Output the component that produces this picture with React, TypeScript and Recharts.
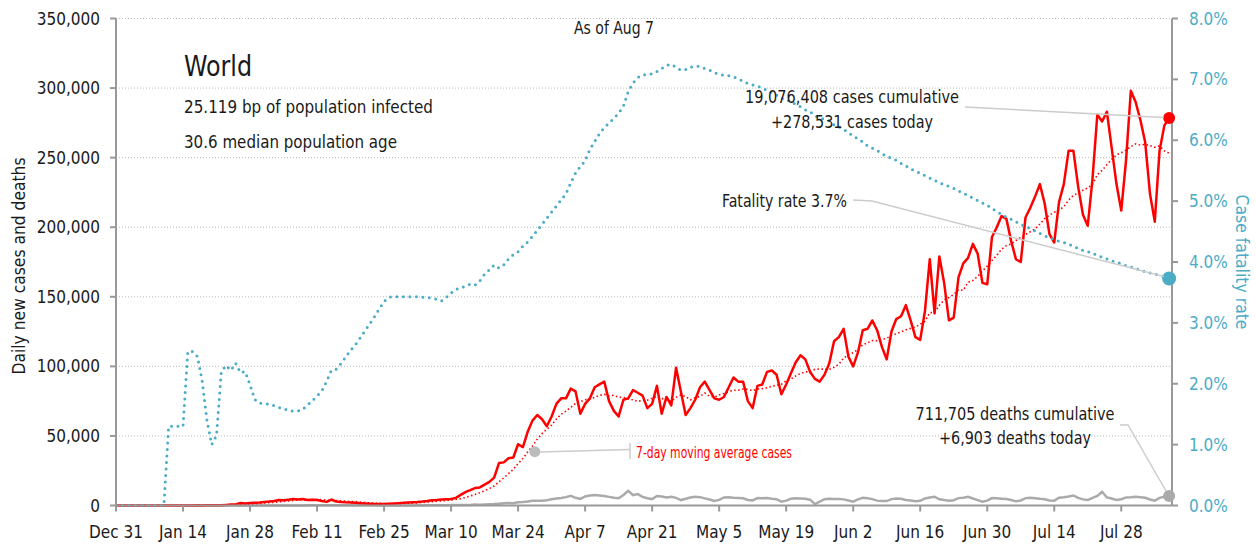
import * as React from 'react'
import { ComposedChart, Line, XAxis, YAxis, CartesianGrid, ReferenceDot } from 'recharts'

// day 0 = Dec 31, last day = Aug 7
const tickDays = [0, 14, 28, 42, 56, 70, 84, 98, 112, 126, 140, 154, 168, 182, 196, 210]
const tickLabels = ['Dec 31', 'Jan 14', 'Jan 28', 'Feb 11', 'Feb 25', 'Mar 10', 'Mar 24', 'Apr 7', 'Apr 21', 'May 5', 'May 19', 'Jun 2', 'Jun 16', 'Jun 30', 'Jul 14', 'Jul 28']
const caseTicks = [0, 50000, 100000, 150000, 200000, 250000, 300000, 350000]
const rateTicks = [0, 1, 2, 3, 4, 5, 6, 7, 8]

const dailyCases = [
  27, 0, 0, 17, 0, 15, 0, 0, 0, 0,
  0, 0, 1, 0, 1, 4, 17, 136, 19, 151,
  140, 97, 259, 441, 665, 787, 1753, 1466, 1740, 1980,
  2100, 2590, 2825, 3240, 3900, 3700, 4200, 4700, 4400, 4600,
  4000, 4100, 3900, 3200, 2600, 4300, 2800, 2500, 2300, 2200,
  1900, 1700, 1500, 1300, 1100, 1000, 1100, 1300, 1500, 1700,
  1900, 2200, 2400, 2600, 2900, 3300, 3800, 4000, 4300, 4500,
  4700, 5500, 7600, 9600, 11000, 12500, 13000, 15000, 17000, 20000,
  30500, 31000, 34000, 34500, 44000, 42000, 53000, 61000, 65000, 62000,
  57000, 64000, 73000, 77000, 77000, 84000, 82000, 66000, 73000, 77000,
  85000, 87000, 89000, 75000, 68000, 64000, 76000, 77000, 83000, 81000,
  79000, 70000, 73000, 86000, 66000, 78000, 72000, 99000, 82000, 65000,
  70000, 76000, 85000, 89000, 83000, 77000, 76000, 78000, 85000, 92000,
  89000, 89000, 75000, 70000, 86000, 87000, 96000, 97000, 94000, 80000,
  87000, 95000, 103000, 108000, 105000, 96000, 91000, 89000, 94000, 102000,
  118000, 121000, 127000, 107000, 100000, 110000, 126000, 127000, 133000, 126000,
  114000, 105000, 125000, 134000, 136000, 144000, 133000, 121000, 119000, 140000,
  177000, 138000, 179000, 160000, 133000, 135000, 164000, 174000, 178000, 188000,
  181000, 160000, 159000, 193000, 200000, 208000, 206000, 190000, 177000, 175000,
  207000, 214000, 222000, 231000, 217000, 195000, 189000, 218000, 231000, 255000,
  255000, 229000, 209000, 201000, 235000, 281000, 276000, 283000, 257000, 231000,
  212000, 248000, 298000, 290000, 277000, 261000, 224000, 204000, 255000, 273000,
  278531,
]

const weekAvgCases = [
  4, 4, 4, 6, 6, 9, 9, 5, 2, 2,
  0, 0, 0, 0, 0, 1, 3, 23, 25, 47,
  67, 81, 118, 178, 250, 360, 590, 780, 1020, 1260,
  1470, 1770, 2060, 2280, 2620, 2910, 3220, 3590, 3910, 4120,
  4170, 4240, 4270, 4130, 3830, 3810, 3560, 3340, 3090, 2840,
  2790, 2490, 2160, 1930, 1710, 1530, 1370, 1280, 1260, 1290,
  1370, 1540, 1740, 1940, 2170, 2440, 2730, 3030, 3330, 3630,
  3930, 4300, 4910, 5740, 6740, 7910, 9130, 10600, 12240, 14010,
  17000, 19860, 22930, 26000, 30140, 33710, 38430, 42790, 47640, 51640,
  54860, 57710, 62140, 65570, 67860, 70570, 73430, 74710, 76000, 76570,
  77710, 79140, 79860, 78860, 79140, 77860, 77710, 76570, 76000, 74860,
  75430, 75710, 77000, 78430, 76860, 76140, 74860, 77710, 79430, 78290,
  76000, 77430, 78430, 80860, 78570, 77860, 79430, 80570, 81860, 82860,
  82860, 83710, 83430, 82570, 83710, 84000, 84570, 85710, 86430, 87140,
  89570, 90860, 93140, 94860, 96000, 96290, 97860, 98140, 98000, 97860,
  99290, 101570, 106000, 108290, 109860, 112140, 115570, 116860, 118570, 118430,
  119430, 120140, 122290, 123430, 124710, 126290, 127290, 128290, 130290, 132430,
  138570, 138860, 143860, 147710, 149430, 151710, 155140, 154710, 160430, 161710,
  164710, 168570, 172000, 176140, 179860, 184140, 186710, 188000, 190430, 192710,
  194710, 196710, 198710, 202290, 206140, 208710, 210710, 212290, 214710, 219430,
  222860, 224570, 226570, 228290, 230710, 237860, 240860, 244860, 248860, 252000,
  253570, 255430, 257860, 259860, 259000, 259570, 258570, 257430, 258430, 254860,
  253210,
]

const dailyDeaths = [
  0, 0, 0, 0, 0, 0, 0, 0, 0, 0,
  0, 1, 0, 0, 0, 1, 0, 1, 0, 0,
  3, 3, 8, 16, 15, 15, 24, 26, 26, 38,
  43, 46, 45, 57, 64, 66, 72, 70, 85, 87,
  100, 108, 97, 146, 121, 143, 142, 106, 98, 139,
  115, 118, 109, 97, 150, 71, 64, 37, 63, 57,
  64, 70, 55, 99, 83, 101, 109, 99, 186, 218,
  289, 273, 337, 433, 346, 632, 591, 760, 957, 1050,
  1300, 1600, 1750, 1700, 2400, 2600, 2900, 3400, 3500, 3400,
  3800, 4500, 5000, 5400, 6000, 7000, 5500, 4800, 6500, 7200,
  7600, 7200, 6800, 6200, 5500, 5200, 7500, 10500, 7500, 8200,
  6200, 5200, 4600, 6800, 6500, 5800, 6300, 5500, 3900, 4800,
  5800, 6300, 6000, 5100, 4300, 3300, 4000, 5800, 6000, 5600,
  5400, 5200, 4000, 3700, 5300, 5200, 5300, 4800, 4500, 2800,
  3500, 4800, 5200, 5000, 4800, 4200, 1000, 2700, 4500, 4800,
  4600, 4700, 4400, 3600, 2800, 4400, 5600, 5200, 4600, 3500,
  3300, 3200, 4600, 5100, 4800, 4000, 3600, 3000, 3400, 5100,
  5800, 6300, 4500, 3900, 3500, 3800, 5300, 5600, 6300, 5000,
  3900, 2700, 3500, 5300, 5200, 4900, 4600, 4000, 3000, 3600,
  5300, 5500, 5200, 4800, 4500, 3600, 3500, 5600, 6000, 6500,
  7200, 5500, 4400, 3900, 5500, 6800, 9900, 5800, 5000, 3900,
  4500, 5800, 6000, 6300, 6000, 5600, 4300, 3500, 5500, 6300,
  6903,
]

// case fatality rate, percent
const fatalityRate = [
  0, 0, 0, 0, 0, 0, 0, 0, 0, 0,
  0, 1.3, 1.3, 1.3, 1.3, 2.53, 2.53, 2.45, 2.05, 1.4,
  1.0, 1.15, 2.2, 2.3, 2.22, 2.34, 2.18, 2.2, 1.98, 1.74,
  1.68, 1.68, 1.66, 1.64, 1.61, 1.59, 1.56, 1.55, 1.55, 1.58,
  1.65, 1.72, 1.8, 1.88, 2.04, 2.22, 2.24, 2.33, 2.44, 2.55,
  2.64, 2.75, 2.87, 2.98, 3.1, 3.23, 3.35, 3.42, 3.43, 3.43,
  3.43, 3.43, 3.43, 3.43, 3.42, 3.42, 3.4, 3.39, 3.36, 3.42,
  3.49, 3.55, 3.58, 3.6, 3.64, 3.62, 3.69, 3.8, 3.87, 3.95,
  3.9, 3.95, 4.05, 4.12, 4.17, 4.26, 4.33, 4.42, 4.52, 4.62,
  4.72, 4.82, 4.92, 5.02, 5.12, 5.3, 5.46, 5.57, 5.66, 5.85,
  5.98, 6.11, 6.21, 6.28, 6.36, 6.44, 6.56, 6.8, 6.94, 7.03,
  7.07, 7.08, 7.09, 7.13, 7.18, 7.23, 7.25, 7.2, 7.15, 7.16,
  7.2, 7.22, 7.21, 7.18, 7.15, 7.11, 7.08, 7.07, 7.06, 7.04,
  7.01, 6.97, 6.93, 6.91, 6.89, 6.86, 6.82, 6.78, 6.74, 6.69,
  6.67, 6.63, 6.59, 6.55, 6.5, 6.47, 6.4, 6.37, 6.34, 6.32,
  6.25, 6.22, 6.18, 6.12, 6.07, 6.02, 5.97, 5.91, 5.87, 5.83,
  5.78, 5.74, 5.7, 5.67, 5.62, 5.58, 5.53, 5.49, 5.46, 5.42,
  5.38, 5.34, 5.3, 5.27, 5.24, 5.21, 5.17, 5.13, 5.09, 5.05,
  5.01, 4.97, 4.93, 4.88, 4.83, 4.78, 4.74, 4.7, 4.66, 4.62,
  4.58, 4.55, 4.51, 4.47, 4.43, 4.4, 4.37, 4.34, 4.32, 4.29,
  4.26, 4.22, 4.19, 4.17, 4.14, 4.11, 4.08, 4.05, 4.02, 4.0,
  3.97, 3.94, 3.92, 3.89, 3.87, 3.84, 3.82, 3.8, 3.78, 3.76,
  3.73,
]

const FONT = "'DejaVu Sans Condensed', 'Liberation Sans Narrow', 'DejaVu Sans', sans-serif"
const TEAL = '#4bacc6'
const RED = '#ff0000'
const GREY = '#aaaaaa'
const INK = '#1a1a1a'

const data = dailyCases.map((c, i) => ({
  day: i,
  cases: c,
  avg: weekAvgCases[i],
  deaths: dailyDeaths[i],
  cfr: fatalityRate[i],
}))

const last = dailyCases.length - 1

function Label({ x, y, w, size = 17, anchor = 'start', fill = INK, children }: any) {
  return (
    <text x={x} y={y} fontSize={size} fill={fill} textAnchor={anchor} fontFamily={FONT}
      textLength={w} lengthAdjust="spacingAndGlyphs">
      {children}
    </text>
  )
}

export default function App() {
  return (
    <div style={{ position: 'absolute', left: 0, top: 0, width: 1256, height: 544, background: '#fff' }}>
      <ComposedChart width={1256} height={544} data={data} margin={{ top: 18.5, right: 0, bottom: 0, left: 0 }}>
        <CartesianGrid vertical={false} stroke="#bbb" strokeDasharray="1 2" />
        <XAxis dataKey="day" type="number" domain={[0, 220.6]} ticks={tickDays} interval={0}
          tickFormatter={(d: number) => tickLabels[tickDays.indexOf(d)]}
          height={38.5} tickSize={6} tickMargin={14}
          axisLine={{ stroke: '#999', strokeWidth: 2 }} tickLine={{ stroke: '#999', strokeWidth: 2 }}
          tick={{ fill: INK, fontSize: 17, fontFamily: FONT }} />
        <YAxis width={116} domain={[0, 350000]} ticks={caseTicks} interval={0}
          tickFormatter={(v: number) => v.toLocaleString('en-US')}
          tickSize={6} tickMargin={10}
          axisLine={{ stroke: '#999', strokeWidth: 2 }} tickLine={{ stroke: '#999', strokeWidth: 2 }}
          tick={{ fill: INK, fontSize: 17, fontFamily: FONT }} />
        <YAxis yAxisId="right" orientation="right" width={84} domain={[0, 8]} ticks={rateTicks} interval={0}
          tickFormatter={(v: number) => v.toFixed(1) + '%'}
          tickSize={6} tickMargin={11}
          axisLine={{ stroke: '#999', strokeWidth: 2 }} tickLine={{ stroke: '#999', strokeWidth: 2 }}
          tick={{ fill: TEAL, fontSize: 17, fontFamily: FONT }} />

        <Line type="linear" dataKey="deaths" stroke={GREY} strokeWidth={2.5} dot={false} isAnimationActive={false} />
        <Line type="linear" dataKey="avg" stroke={RED} strokeWidth={1.6} strokeDasharray="1.5 2.5"
          dot={false} isAnimationActive={false} />
        <Line type="linear" dataKey="cases" stroke={RED} strokeWidth={2.5} strokeLinejoin="round"
          dot={false} isAnimationActive={false} />
        <Line yAxisId="right" type="linear" dataKey="cfr" stroke={TEAL} strokeWidth={3}
          strokeDasharray="0 6.5" strokeLinecap="round" dot={false} isAnimationActive={false} />

        <ReferenceDot x={last} y={dailyCases[last]} r={6} fill={RED} stroke="none" />
        <ReferenceDot x={last} y={dailyDeaths[last]} r={6} fill={GREY} stroke="none" />
        <ReferenceDot yAxisId="right" x={last} y={fatalityRate[last]} r={7} fill={TEAL} stroke="none" />
        <ReferenceDot x={87.5} y={38700} r={5.5} fill="#bbb" stroke="none" />
      </ComposedChart>

      <svg width={1256} height={544} style={{ position: 'absolute', left: 0, top: 0, pointerEvents: 'none' }}>
        <Label x={184} y={76} size={28} w={68}>World</Label>
        <Label x={184} y={113} size={18} w={249}>25.119 bp of population infected</Label>
        <Label x={184} y={148} size={18} w={213}>30.6 median population age</Label>
        <Label x={614} y={34} size={17} w={80} anchor="middle">As of Aug 7</Label>

        <g stroke="#cccccc" strokeWidth={1.5} fill="none">
          <polyline points="965,107 1164,117.5" />
          <polyline points="853,200 872,201 1164,276.5" />
          <polyline points="1120,425 1128,425 1166,491" />
          <polyline points="540,452 630,449.5" />
          <polyline points="630,443 630,459" />
        </g>

        <Label x={852} y={103} size={18} w={214} anchor="middle">19,076,408 cases cumulative</Label>
        <Label x={852} y={128} size={18} w={162} anchor="middle">+278,531 cases today</Label>
        <Label x={847} y={207} size={18} w={125} anchor="end">Fatality rate 3.7%</Label>
        <Label x={1015} y={420} size={18} w={199} anchor="middle">711,705 deaths cumulative</Label>
        <Label x={1015} y={444} size={18} w={152} anchor="middle">+6,903 deaths today</Label>
        <Label x={636} y={458} size={15} w={156} fill={RED}>7-day moving average cases</Label>

        <g transform="translate(25,266) rotate(-90)">
          <Label x={0} y={0} size={17} w={217} anchor="middle">Daily new cases and deaths</Label>
        </g>
        <g transform="translate(1236,262) rotate(90)">
          <Label x={0} y={0} size={17} w={135} anchor="middle" fill={TEAL}>Case fatality rate</Label>
        </g>
      </svg>
    </div>
  )
}
